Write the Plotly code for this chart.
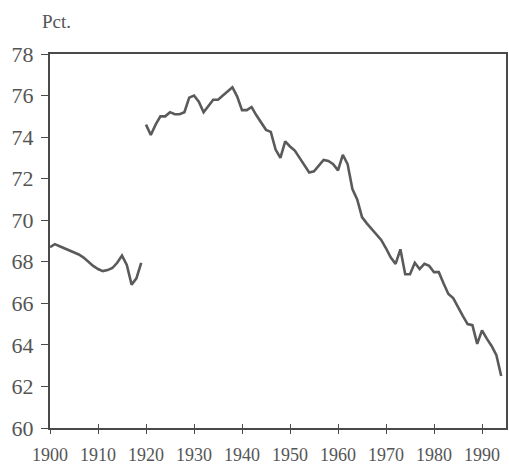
import plotly.graph_objects as go

years_a = list(range(1900, 1920))
values_a = [68.7, 68.85, 68.75, 68.65, 68.55, 68.45, 68.35, 68.2, 68.0, 67.8,
            67.65, 67.55, 67.6, 67.7, 67.95, 68.3, 67.85, 66.9, 67.2, 67.95]

years_b = list(range(1920, 1995))
values_b = [74.6, 74.1, 74.6, 75.0, 75.0, 75.2, 75.1, 75.1, 75.2, 75.9,
            76.0, 75.7, 75.2, 75.5, 75.8, 75.8, 76.0, 76.2, 76.4, 75.95,
            75.3, 75.3, 75.45, 75.05, 74.7, 74.35, 74.25, 73.4, 73.0, 73.8,
            73.55, 73.35, 73.0, 72.65, 72.3, 72.35, 72.6, 72.9, 72.85, 72.7,
            72.4, 73.15, 72.7, 71.5, 71.0, 70.15, 69.85, 69.6, 69.35, 69.05,
            68.65, 68.2, 67.9, 68.6, 67.4, 67.4, 67.95, 67.65, 67.9, 67.8,
            67.5, 67.5, 66.95, 66.45, 66.25, 65.8, 65.4, 65.0, 64.95, 64.05,
            64.7, 64.3, 63.95, 63.5, 62.5]

x_ticks = list(range(1900, 2000, 10))
y_ticks = list(range(60, 80, 2))

FONT = "Liberation Serif"
LINE_COLOR = "#5a5a5a"
AXIS_COLOR = "#4a4a4a"
TEXT_COLOR = "#555555"

fig = go.Figure()
for xs, ys in [(years_a, values_a), (years_b, values_b)]:
    fig.add_trace(go.Scatter(x=xs, y=ys, mode="lines",
                             line=dict(color=LINE_COLOR, width=2.6),
                             showlegend=False, hoverinfo="skip"))

# invisible trace so the overlay axis (inner half of crossing ticks) is drawn
fig.add_trace(go.Scatter(x=[x_ticks[0]], y=[y_ticks[0]], xaxis="x2",
                         mode="markers", marker=dict(opacity=0),
                         showlegend=False, hoverinfo="skip"))

fig.update_layout(
    width=509, height=466,
    margin=dict(l=50, r=1, t=54, b=37),
    paper_bgcolor="white", plot_bgcolor="white",
    font=dict(family=FONT, color=TEXT_COLOR),
    xaxis=dict(range=[1900, 1995], tickvals=x_ticks,
               ticktext=[str(v) for v in x_ticks],
               showgrid=False, zeroline=False,
               showline=True, linecolor=AXIS_COLOR, linewidth=2,
               mirror=True,
               ticks="outside", ticklen=4, tickwidth=1.2, tickcolor=AXIS_COLOR,
               tickfont=dict(family=FONT, size=18, color=TEXT_COLOR),
               ticklabelstandoff=5),
    xaxis2=dict(range=[1900, 1995], tickvals=x_ticks, overlaying="x",
                anchor="y", side="bottom",
                showticklabels=False, showgrid=False, zeroline=False,
                showline=False,
                ticks="inside", ticklen=4, tickwidth=1.2, tickcolor=AXIS_COLOR),
    yaxis=dict(range=[60, 78], tickvals=y_ticks,
               ticktext=[str(v) for v in y_ticks],
               showgrid=False, zeroline=False,
               showline=True, linecolor=AXIS_COLOR, linewidth=2,
               mirror=True,
               ticks="outside", ticklen=7, tickwidth=1.2, tickcolor=AXIS_COLOR,
               tickfont=dict(family=FONT, size=22, color=TEXT_COLOR),
               ticklabelstandoff=3),
    annotations=[dict(text="Pct.", xref="paper", yref="paper",
                      x=-0.022, y=1, xanchor="left", yanchor="middle",
                      yshift=33, showarrow=False,
                      font=dict(family=FONT, size=19, color=TEXT_COLOR))],
)

fig.write_html(
    "out.html",
    config={"displayModeBar": False},
    post_script="document.body.style.margin='0';document.body.style.overflow='hidden';",
)
